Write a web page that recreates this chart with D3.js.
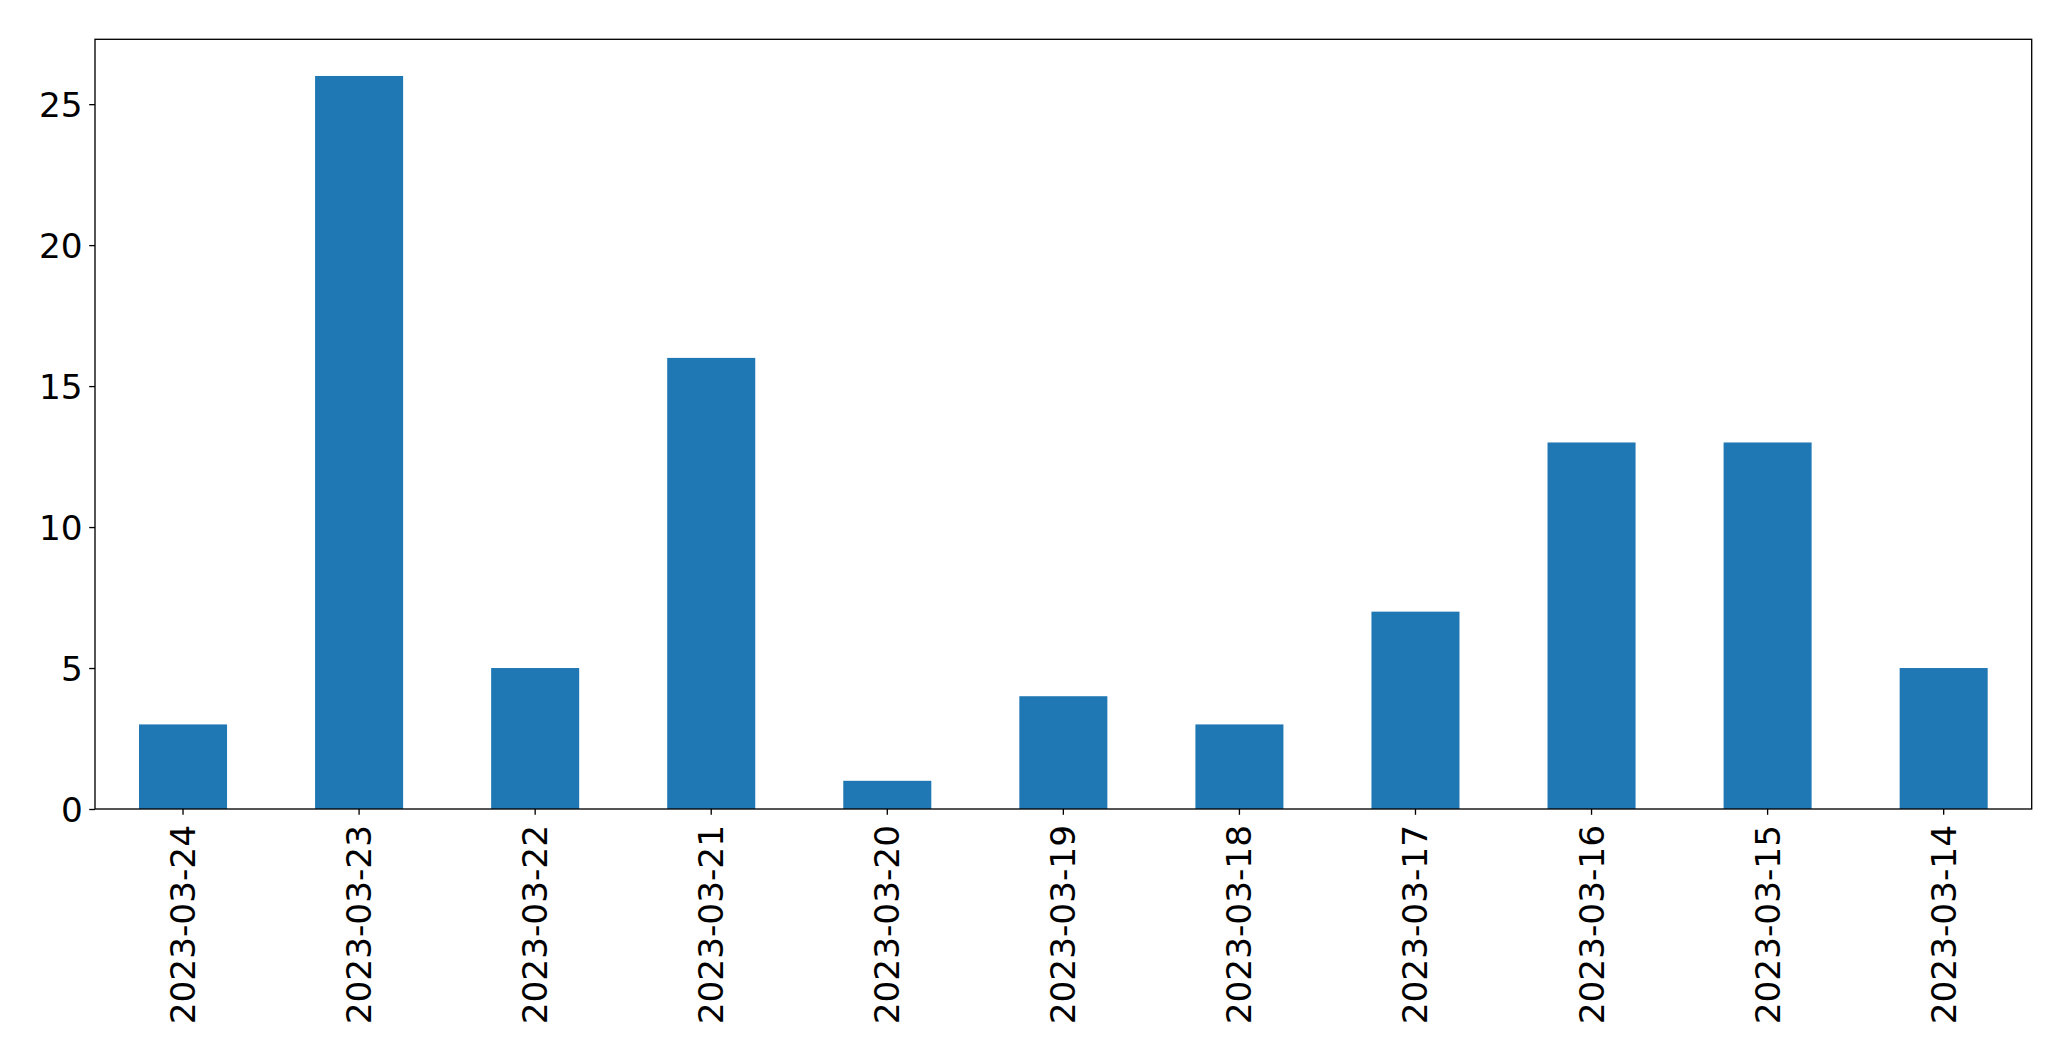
<!DOCTYPE html>
<html><head><meta charset="utf-8">
<script src="https://cdn.jsdelivr.net/npm/d3@7"></script>
<style>html,body{margin:0;padding:0;background:#fff;}</style>
</head><body>
<svg id="chart" width="2071" height="1061"></svg>
<script>
const categories = ["2023-03-24","2023-03-23","2023-03-22","2023-03-21","2023-03-20","2023-03-19","2023-03-18","2023-03-17","2023-03-16","2023-03-15","2023-03-14"];
const values = [3, 26, 5, 16, 1, 4, 3, 7, 13, 13, 5];
const yTicks = [0, 5, 10, 15, 20, 25];

(function () {
const svg = d3.select("#chart");
const mLeft = 95, mRight = 2031.7, mTop = 39.3, mBottom = 809;
const fontSize = 34.3, tickLen = 5.8, pad = 6.5;

const x = d3.scaleBand().domain(categories).range([mLeft, mRight]).paddingInner(0.5).paddingOuter(0.25);
const y = d3.scaleLinear().domain([0, d3.max(values) * 1.05]).range([mBottom, mTop]);

svg.append("g").selectAll("rect").data(values).join("rect")
  .attr("x", (d, i) => x(categories[i]))
  .attr("y", d => y(d))
  .attr("width", x.bandwidth())
  .attr("height", d => y(0) - y(d))
  .attr("fill", "#1f77b4");

const yAxis = svg.append("g").attr("transform", `translate(${mLeft},0)`)
  .call(d3.axisLeft(y).tickValues(yTicks).tickSize(tickLen).tickPadding(pad));
const xAxis = svg.append("g").attr("transform", `translate(0,${mBottom})`)
  .call(d3.axisBottom(x).tickSize(tickLen).tickPadding(pad));

[yAxis, xAxis].forEach(g => {
  g.select(".domain").remove();
  g.selectAll(".tick line").attr("stroke", "#000").attr("stroke-width", 1.33);
  g.selectAll("text").attr("font-family", "DejaVu Sans").attr("font-size", fontSize).attr("fill", "#000");
});
yAxis.selectAll("text").attr("dy", "0.35em");
xAxis.selectAll("text")
  .attr("transform", "rotate(-90)")
  .attr("text-anchor", "end")
  .attr("x", -16)
  .attr("y", 0)
  .attr("dy", "0.35em");

svg.append("rect").attr("x", mLeft).attr("y", mTop).attr("width", mRight - mLeft).attr("height", mBottom - mTop)
  .attr("fill", "none").attr("stroke", "#000").attr("stroke-width", 1.33);
})();
</script>
</body></html>
